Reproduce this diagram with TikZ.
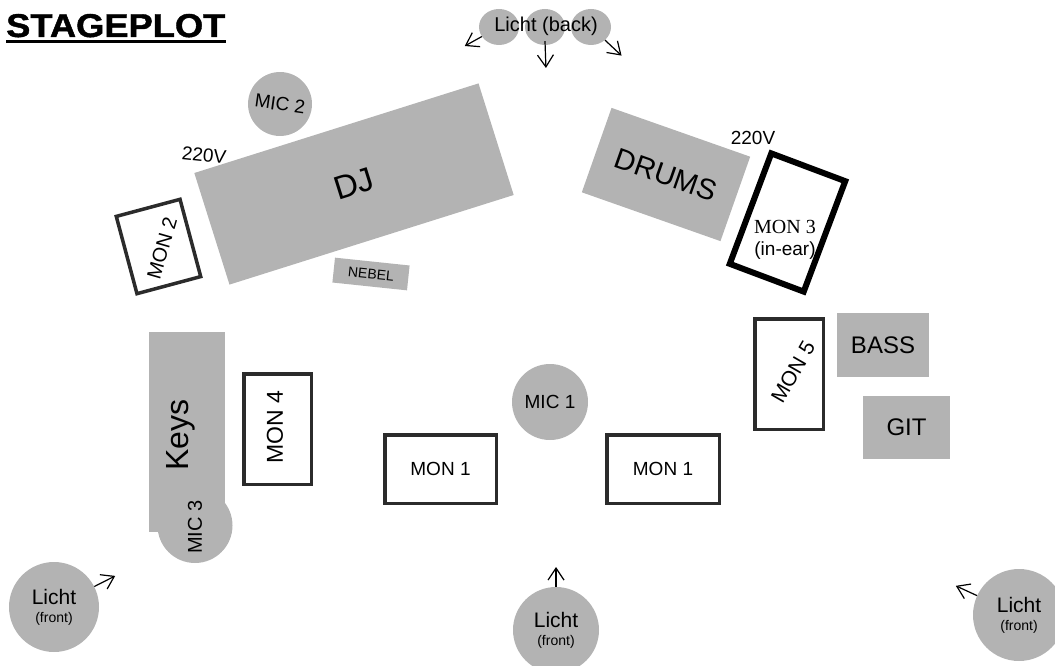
\documentclass[tikz,border=0pt]{standalone}
\usepackage{fontspec}
\setmainfont{Liberation Sans}
\newfontfamily\monserif{Liberation Serif}
\newfontfamily\titlefont[FakeBold=1.2]{Liberation Sans Bold}
\usetikzlibrary{arrows.meta,shapes.geometric}
\newcommand\myfs[1]{\fontsize{#1}{#1}\selectfont}
\definecolor{stagegray}{HTML}{B3B3B3}
\definecolor{mondark}{HTML}{2B2B2B}
\begin{document}
\begin{tikzpicture}[x=1pt,y=-1pt,
  gear/.style={rectangle, fill=stagegray, draw=none, inner sep=0pt},
  roundthing/.style={circle, fill=stagegray, draw=none, inner sep=0pt},
  oval/.style={ellipse, fill=stagegray, draw=none, inner sep=0pt, minimum width=40pt, minimum height=36pt},
  monbox/.style={rectangle, draw=mondark, line width=3.5pt, inner sep=0pt},
  lichtarrow/.style={draw=black, line width=1.2pt, -{Straight Barb[length=12pt,width=16pt,sep=2pt]}},
  lbl/.style={inner sep=0pt, text=black}
]
\useasboundingbox (0,0) rectangle (1055,666);

% title
\node[lbl, font=\titlefont\myfs{33}, anchor=base west] (title) at (6,37) {\scalebox{1.1}[1]{STAGEPLOT}};
\draw[line width=3pt] ([yshift=-5pt]title.base west) -- ([yshift=-5pt]title.base east);

% back lights
\node[oval] (lb1) at (499,27) {};
\node[oval] (lb2) at (545,27) {};
\node[oval] (lb3) at (591,27) {};
\node[lbl, font=\myfs{20}] (lbt) at (546,26) {Licht (back)};
\coordinate (lbtip1) at (463,47);
\coordinate (lbtip2) at (546,70);
\coordinate (lbtip3) at (623,57);
\draw[lichtarrow] (lb1) -- (lbtip1);
\draw[lichtarrow] ([yshift=4pt]lb2.south) -- (lbtip2);
\draw[lichtarrow] (lb3) -- (lbtip3);

% DJ area
\node[roundthing, minimum size=64pt, rotate=-8, font=\myfs{19}] (mic2) at (280,104) {MIC 2};
\node[gear, rotate=17.5, minimum width=298pt, minimum height=117pt, font=\myfs{33}] (dj) at (354,184) {DJ};
\node[lbl, rotate=-6, font=\myfs{19}] (v1) at (204,155) {220V};
\node[monbox, rotate=15, minimum width=66pt, minimum height=80pt] (mon2) at (158.5,246.5) {};
\node[lbl, rotate=74, font=\myfs{20}] (mon2t) at (162,248) {MON 2};
\node[gear, rotate=-6, minimum width=75pt, minimum height=25pt, font=\myfs{14}] (nebel) at (371,274) {NEBEL};

% drums
\node[gear, rotate=-19.4, minimum width=147pt, minimum height=89.5pt, font=\myfs{29}] (drums) at (666,174.5) {DRUMS};
\node[lbl, font=\myfs{19}] (v2) at (753,138) {220V};
\node[rectangle, draw=black, line width=6pt, inner sep=0pt, rotate=-20.6, minimum width=79pt, minimum height=118pt] (mon3) at (787.5,222.5) {};
\node[lbl, align=center, font=\myfs{19}] (mon3t) at (785,240) {{\monserif\myfs{20}MON 3}\\[3pt](in-ear)};

% keys
\node[roundthing, minimum size=75pt] (mic3) at (195,525.5) {};
\node[gear, minimum width=76pt, minimum height=200pt] (keys) at (187,432) {};
\node[lbl, rotate=90, font=\myfs{32}] (keyst) at (180.5,435) {Keys};
\node[lbl, rotate=90, font=\myfs{20}] (mic3t) at (195,527) {MIC 3};
\node[monbox, minimum width=67.5pt, minimum height=110.5pt] (mon4) at (277.5,429) {};
\node[lbl, rotate=90, font=\myfs{23}] (mon4t) at (275,427) {MON 4};

% right side
\node[monbox, minimum width=68.5pt, minimum height=110.5pt] (mon5) at (789,374) {};
\node[lbl, rotate=60, font=\myfs{21}] (mon5t) at (793,372) {MON 5};
\node[gear, minimum width=92pt, minimum height=64pt, font=\myfs{24}] (bass) at (883,345) {BASS};
\node[gear, minimum width=87pt, minimum height=63pt, font=\myfs{24}] (git) at (906.5,427.5) {GIT};

% front centre
\node[roundthing, minimum size=76pt, font=\myfs{19}] (mic1) at (550,402) {MIC 1};
\node[monbox, minimum width=111.5pt, minimum height=68.5pt, font=\myfs{19}] (mon1a) at (440.5,469) {MON 1};
\node[monbox, minimum width=112.5pt, minimum height=68.5pt, font=\myfs{19}] (mon1b) at (663,469) {MON 1};

% front lights
\node[roundthing, minimum size=90pt, align=center, font=\myfs{21}] (lf1) at (54,607) {Licht\\[-3pt]{\myfs{14}(front)}};
\node[roundthing, minimum size=86pt, align=center, font=\myfs{21}] (lf2) at (556,630) {Licht\\[-3pt]{\myfs{14}(front)}};
\node[roundthing, minimum size=92pt, align=center, font=\myfs{21}] (lf3) at (1019,615) {Licht\\[-3pt]{\myfs{14}(front)}};
\coordinate (lftip1) at (117,575);
\coordinate (lftip2) at (556,565);
\coordinate (lftip3) at (954,585);
\draw[lichtarrow] (lf1) -- (lftip1);
\draw[lichtarrow] (lf2) -- (lftip2);
\draw[lichtarrow] (lf3) -- (lftip3);
\end{tikzpicture}
\end{document}
